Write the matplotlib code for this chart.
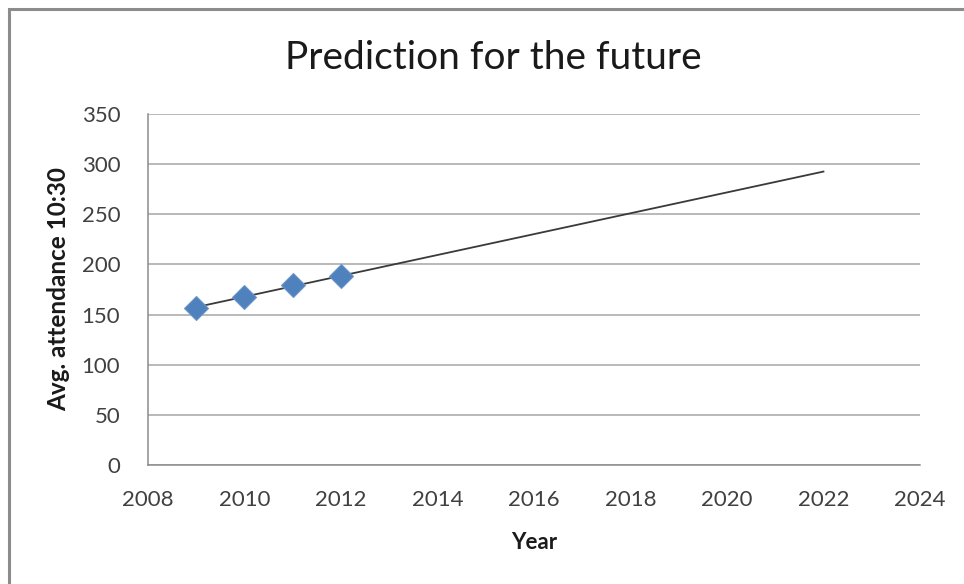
import matplotlib.pyplot as plt
import numpy as np
from matplotlib.patches import Rectangle

years = [2009, 2010, 2011, 2012]
attendance = [157, 168, 179, 188]
trend_span = [2009, 2022]
x_ticks = [2008, 2010, 2012, 2014, 2016, 2018, 2020, 2022, 2024]
y_ticks = [0, 50, 100, 150, 200, 250, 300, 350]

plt.rcParams['font.family'] = ['Lato', 'DejaVu Sans']

fig = plt.figure(figsize=(9.64, 5.84), dpi=100)
ax = fig.add_axes([0.1535, 0.2038, 0.8008, 0.601])

# outer chart frame
fig.patches.append(Rectangle((9 / 964, -0.05), 1.0, 1.05 - 9 / 584,
                             transform=fig.transFigure, fill=False,
                             edgecolor='#8c8c8c', linewidth=2.2))

# linear trendline, forecast forward
slope, icpt = np.polyfit(years, attendance, 1)
tx = np.array(trend_span)
ax.plot(tx, slope * tx + icpt, color='#3a3a3a', linewidth=1.3, zorder=2)

ax.plot(years, attendance, linestyle='none', marker='D', markersize=12.5,
        markerfacecolor='#4f81bd', markeredgecolor='#6a96c8',
        markeredgewidth=0.8, zorder=3)

ax.set_xlim(2008, 2024)
ax.set_ylim(0, 350)
ax.set_xticks(x_ticks)
ax.set_yticks(y_ticks)
ax.grid(axis='y', color='#a6a6a6', linewidth=1.1)
ax.set_axisbelow(True)
ax.tick_params(length=0, labelsize=16, colors='#404040')
ax.tick_params(axis='y', pad=20)
ax.tick_params(axis='x', pad=18)

for s in ['top', 'right']:
    ax.spines[s].set_visible(False)
for s in ['left', 'bottom']:
    ax.spines[s].set_color('#8c8c8c')
    ax.spines[s].set_linewidth(1.1)

ax.set_ylabel('Avg. attendance 10:30', fontsize=17.5, fontweight='bold',
              color='#1a1a1a', labelpad=8)
ax.set_xlabel('Year', fontsize=16, fontweight='bold', color='#1a1a1a',
              labelpad=16)

fig.text(493 / 964, 1 - 58 / 584, 'Prediction for the future', fontsize=28,
         ha='center', va='center', color='#1a1a1a')

fig.savefig('out.png', dpi=100)
